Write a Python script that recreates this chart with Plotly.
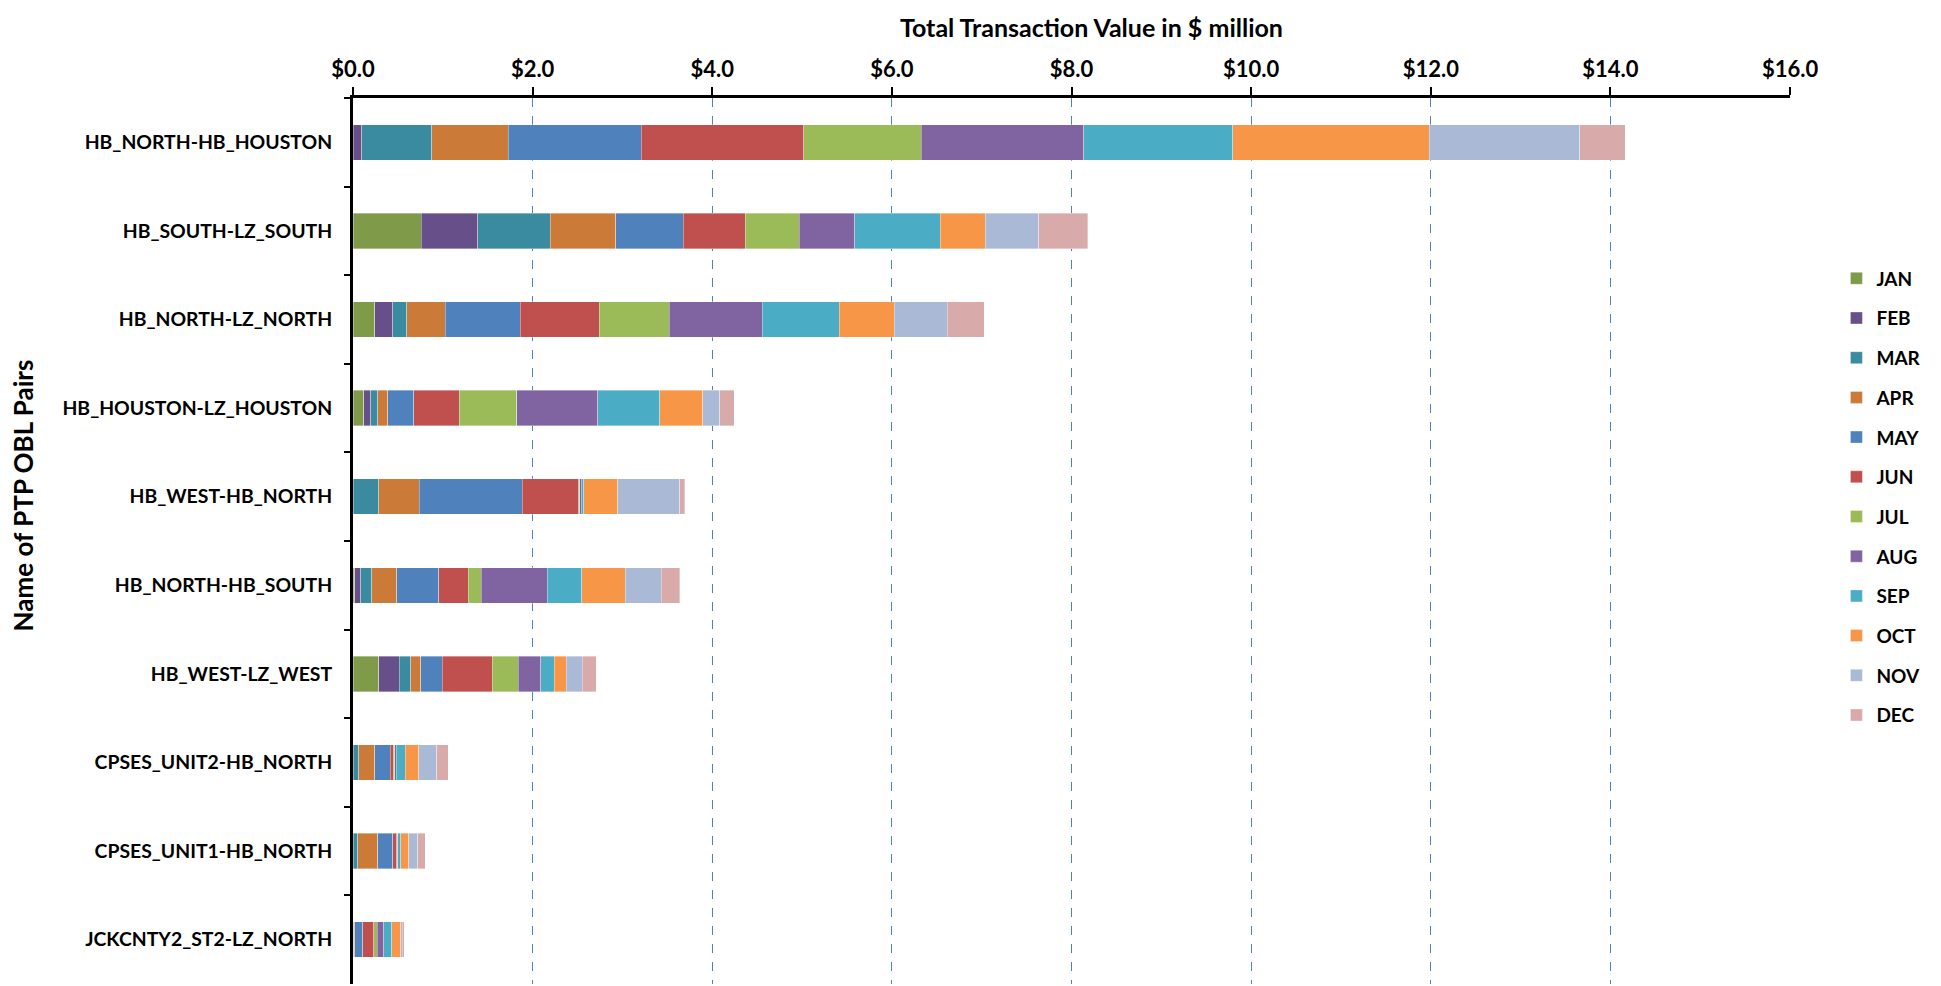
import plotly.graph_objects as go

pairs = ["HB_NORTH-HB_HOUSTON", "HB_SOUTH-LZ_SOUTH", "HB_NORTH-LZ_NORTH", "HB_HOUSTON-LZ_HOUSTON",
         "HB_WEST-HB_NORTH", "HB_NORTH-HB_SOUTH", "HB_WEST-LZ_WEST", "CPSES_UNIT2-HB_NORTH",
         "CPSES_UNIT1-HB_NORTH", "JCKCNTY2_ST2-LZ_NORTH"]

months = ["JAN", "FEB", "MAR", "APR", "MAY", "JUN", "JUL", "AUG", "SEP", "OCT", "NOV", "DEC"]

# values in $ million, one list per month, in the order of `pairs`
jan = [0.00, 0.76, 0.243, 0.119, 0.00, 0.02, 0.289, 0.00, 0.00, 0.00]
feb = [0.10, 0.631, 0.199, 0.077, 0.00, 0.065, 0.226, 0.00, 0.00, 0.00]
mar = [0.774, 0.803, 0.154, 0.078, 0.285, 0.122, 0.126, 0.063, 0.052, 0.01]
apr = [0.854, 0.730, 0.431, 0.115, 0.452, 0.278, 0.115, 0.181, 0.222, 0.01]
may = [1.479, 0.753, 0.834, 0.285, 1.148, 0.467, 0.240, 0.171, 0.170, 0.09]
jun = [1.811, 0.692, 0.883, 0.507, 0.630, 0.329, 0.552, 0.033, 0.041, 0.12]
jul = [1.311, 0.598, 0.775, 0.641, 0.011, 0.145, 0.293, 0.019, 0.007, 0.04]
aug = [1.806, 0.620, 1.037, 0.904, 0.018, 0.737, 0.252, 0.014, 0.007, 0.07]
sep = [1.658, 0.952, 0.858, 0.689, 0.023, 0.385, 0.148, 0.100, 0.030, 0.09]
oct_ = [2.193, 0.503, 0.611, 0.481, 0.381, 0.482, 0.133, 0.149, 0.089, 0.10]
nov = [1.675, 0.593, 0.590, 0.189, 0.689, 0.400, 0.178, 0.203, 0.104, 0.02]
dec = [0.505, 0.548, 0.412, 0.159, 0.059, 0.207, 0.159, 0.126, 0.085, 0.02]

series = [jan, feb, mar, apr, may, jun, jul, aug, sep, oct_, nov, dec]

colors = ["#7F9A48", "#67508A", "#3B8BA0", "#CC7A38", "#4F81BD", "#C0504D",
          "#9BBB59", "#8064A2", "#4BACC6", "#F79646", "#AAB9D6", "#D9AAAA"]

tick_vals = [0, 2, 4, 6, 8, 10, 12, 14, 16]
tick_text = ["$0.0", "$2.0", "$4.0", "$6.0", "$8.0", "$10.0", "$12.0", "$14.0", "$16.0"]

FONT = "Lato, 'Open Sans', sans-serif"

fig = go.Figure()
for m, vals, c in zip(months, series, colors):
    fig.add_trace(go.Bar(
        x=vals, y=pairs, name=m, orientation="h",
        marker=dict(color=c, line=dict(color="rgba(255,255,255,0.6)", width=0.6)),
        legendgroup=m,
    ))

fig.update_layout(
    barmode="stack",
    bargap=0.6,
    width=1941, height=986,
    paper_bgcolor="white", plot_bgcolor="white",
    margin=dict(l=345, r=159, t=90, b=10, autoexpand=False),
    font=dict(family=FONT, color="black"),
    legend=dict(
        xref="container", yref="container", x=0.942, y=0.745,
        xanchor="left", yanchor="top",
        font=dict(size=19, family=FONT, color="black", weight="bold"),
        tracegroupgap=12, itemwidth=30,
    ),
    xaxis=dict(
        side="top", range=[0, 16], tickvals=tick_vals, ticktext=tick_text,
        tickfont=dict(size=22, family=FONT, weight="bold"),
        showline=True, linecolor="black", linewidth=3,
        ticks="outside", ticklen=8, tickwidth=2, tickcolor="black",
        ticklabelstandoff=1,
        showgrid=True, gridcolor="#4F81BD", griddash="dash", gridwidth=1,
        zeroline=False, automargin=False,
    ),
    yaxis=dict(
        categoryorder="array", categoryarray=pairs, autorange="reversed",
        tickfont=dict(size=19.4, family=FONT, weight="bold"),
        showline=True, linecolor="black", linewidth=3,
        ticks="outside", ticklen=6, tickwidth=2, tickcolor="black",
        tickson="boundaries", ticklabelstandoff=14,
        showgrid=False, zeroline=False, automargin=False,
    ),
    annotations=[
        dict(text="Total Transaction Value in $ million", xref="paper", yref="paper",
             x=0.514, y=1.0995, xanchor="center", yanchor="top", showarrow=False,
             font=dict(size=25, family=FONT, weight="bold", color="black")),
        dict(text="Name of PTP OBL Pairs", xref="paper", yref="paper",
             x=-0.230, y=0.552, xanchor="center", yanchor="middle", showarrow=False,
             textangle=-90,
             font=dict(size=26, family=FONT, weight="bold", color="black")),
    ],
)

fig.write_html("out.html")
